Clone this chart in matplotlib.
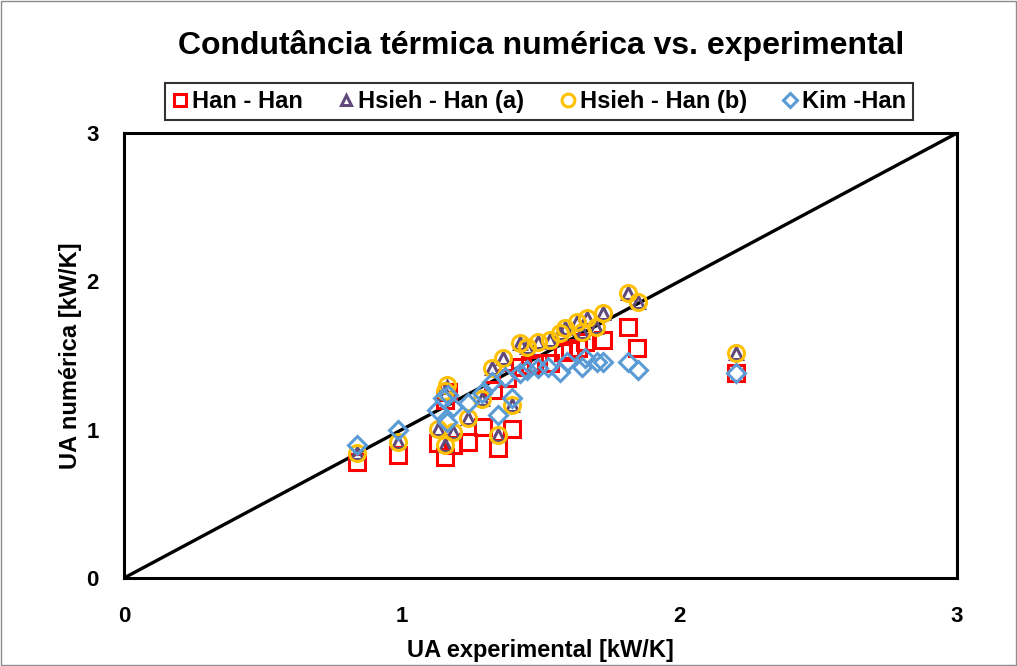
import matplotlib
matplotlib.use("Agg")
import matplotlib.pyplot as plt
from matplotlib.patches import Rectangle

plt.rcParams["font.family"] = ["Liberation Sans", "DejaVu Sans"]
plt.rcParams["font.weight"] = "bold"

# Han - Han
han_x = [0.838, 0.988, 1.131, 1.158, 1.185, 1.158, 1.167, 1.239, 1.293, 1.347, 1.396,
         1.329, 1.378, 1.426, 1.462, 1.491, 1.534, 1.581, 1.606, 1.635, 1.660, 1.725,
         1.815, 1.847, 2.204]
han_y = [0.784, 0.829, 0.910, 0.818, 0.897, 1.200, 1.254, 0.919, 1.020, 0.877, 1.005,
         1.268, 1.349, 1.425, 1.436, 1.450, 1.450, 1.524, 1.537, 1.551, 1.591, 1.605,
         1.693, 1.551, 1.382]

# Hsieh - Han (a) and (b)
hsieh_x = [0.838, 0.987, 1.162, 1.155, 1.130, 1.156, 1.185, 1.240, 1.290, 1.347, 1.396,
           1.324, 1.366, 1.426, 1.450, 1.490, 1.534, 1.570, 1.588, 1.630, 1.667, 1.650,
           1.700, 1.725, 1.815, 1.850, 2.204]
hsieh_a_y = [0.840, 0.917, 1.290, 1.250, 1.005, 0.897, 0.986, 1.080, 1.210, 0.964, 1.167,
             1.416, 1.483, 1.585, 1.560, 1.590, 1.605, 1.650, 1.686, 1.726, 1.753, 1.660,
             1.690, 1.790, 1.920, 1.860, 1.517]
hsieh_b_y = [0.840, 0.917, 1.300, 1.260, 1.005, 0.897, 0.986, 1.080, 1.210, 0.964, 1.167,
             1.416, 1.483, 1.585, 1.560, 1.590, 1.605, 1.650, 1.686, 1.726, 1.753, 1.660,
             1.690, 1.790, 1.920, 1.860, 1.517]

# Kim - Han
kim_x = [0.839, 0.987, 1.126, 1.162, 1.185, 1.167, 1.149, 1.239, 1.288, 1.324, 1.372,
         1.396, 1.347, 1.426, 1.451, 1.491, 1.527, 1.570, 1.595, 1.648, 1.660, 1.703,
         1.725, 1.815, 1.851, 2.204]
kim_y = [0.897, 0.998, 1.133, 1.054, 1.155, 1.234, 1.214, 1.180, 1.247, 1.324, 1.357,
         1.214, 1.099, 1.384, 1.403, 1.416, 1.423, 1.391, 1.459, 1.425, 1.483, 1.459,
         1.459, 1.459, 1.403, 1.382]

ticks = [0, 1, 2, 3]

fig = plt.figure(figsize=(10.17, 6.66), dpi=100)
fig.patches.append(Rectangle((0.001, 0.001), 0.998, 0.998, transform=fig.transFigure,
                             fill=False, edgecolor="#8c8c8c", linewidth=1.0))
ax = fig.add_axes([0.1219, 0.1321, 0.819, 0.668])

ax.plot([0, 3], [0, 3], color="black", linewidth=2.4, zorder=1)
ax.plot(han_x, han_y, linestyle="none", marker="s", markersize=11.5, markerfacecolor="none",
        markeredgecolor="#ff0000", markeredgewidth=2.2, label="Han - Han", zorder=2)
ax.plot(hsieh_x, hsieh_a_y, linestyle="none", marker="^", markersize=8.5, markerfacecolor="none",
        markeredgecolor="#604a7b", markeredgewidth=2.2, label="Hsieh - Han (a)", zorder=3)
ax.plot(hsieh_x, hsieh_b_y, linestyle="none", marker="o", markersize=11.5, markerfacecolor="none",
        markeredgecolor="#ffc000", markeredgewidth=2.2, label="Hsieh - Han (b)", zorder=4)
ax.plot(kim_x, kim_y, linestyle="none", marker="D", markersize=9, markerfacecolor="none",
        markeredgecolor="#5b9bd5", markeredgewidth=2.2, label="Kim -Han", zorder=5)

ax.set_xlim(0, 3)
ax.set_ylim(0, 3)
ax.set_xticks(ticks)
ax.set_yticks(ticks)
ax.tick_params(length=0, labelsize=16)
ax.tick_params(axis="x", pad=20)
ax.tick_params(axis="y", pad=18)
for spine in ax.spines.values():
    spine.set_linewidth(2.2)
ax.set_xlabel("UA experimental [kW/K]", fontsize=17, fontweight="bold", labelpad=9)
ax.set_ylabel("UA numérica [kW/K]", fontsize=17, fontweight="bold", labelpad=3)

fig.text(0.532, 0.932, "Condutância térmica numérica vs. experimental", ha="center", va="center",
         fontsize=23, fontweight="bold")

leg = fig.legend(loc="center", bbox_to_anchor=(0.530, 0.847), ncol=4, fontsize=17,
                 frameon=True, fancybox=False, edgecolor="black", markerscale=0.8,
                 handlelength=0.7, handletextpad=0.15, columnspacing=1.5, borderpad=0.3)
leg.get_frame().set_linewidth(1.5)

fig.savefig("out.png", dpi=100)
